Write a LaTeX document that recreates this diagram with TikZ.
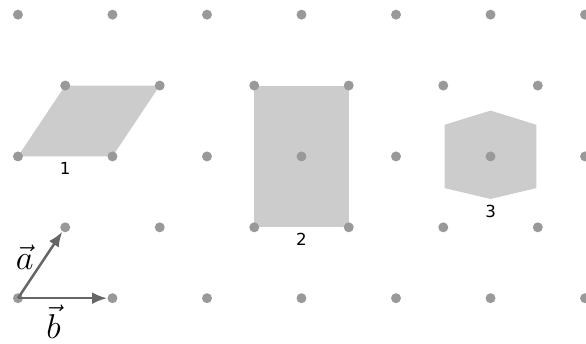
\documentclass[tikz,border=0pt]{standalone}
\usepackage{fontspec}
\newfontfamily\labelfont{DejaVu Sans}
\usetikzlibrary{arrows.meta}
\definecolor{cellgray}{HTML}{CCCCCC}
\definecolor{sitegray}{HTML}{999999}
\definecolor{vecgray}{HTML}{666666}
\tikzstyle{cell}=[fill=cellgray]
\tikzstyle{site}=[circle, fill=sitegray, inner sep=0pt, minimum size=6pt]
\tikzstyle{cell label}=[below, font=\labelfont\fontsize{10}{12}\selectfont]
\tikzstyle{vector}=[vecgray, line width=1.5pt, -{Latex[length=9pt, width=7pt]}]
\tikzstyle{vector label}=[text=black, font=\huge]

\begin{document}
\begin{tikzpicture}
      \useasboundingbox (-0.38, -0.95) rectangle (12.02, 6.31);
      % cells
      \fill[cell] (0, 3) -- (2, 3) -- (3, 4.5) -- (1, 4.5) -- cycle;
      \fill[cell] (5, 1.5) rectangle (7, 4.5);
      \fill[cell] (10, 3.97) -- (10.97, 3.67) -- (10.97, 2.33)
        -- (10, 2.1) -- (9.03, 2.33) -- (9.03, 3.67) -- cycle;
      % lattice
      \foreach \r in {0, 2, 4}
        \foreach \c in {0, ..., 6}
          \node[site] (s-\c-\r) at (2*\c, 1.5*\r) {};
      \foreach \r in {1, 3}
        \foreach \c in {0, ..., 5}
          \node[site] (s-\c-\r) at (2*\c + 1, 1.5*\r) {};
      \node[cell label] (n1) at (1, 3) {1};
      \node[cell label] (n2) at (6, 1.5) {2};
      \node[cell label] (n3) at (10, 2.1) {3};
      % basis
      \draw[vector] (s-0-0.center) to node[vector label, left, pos=0.62, xshift=-3pt] {$\vec{a}$} (s-0-1);
      \draw[vector] (s-0-0.center) to node[vector label, below, pos=0.4] {$\vec{b}$} (s-1-0);
    \end{tikzpicture}
\end{document}
